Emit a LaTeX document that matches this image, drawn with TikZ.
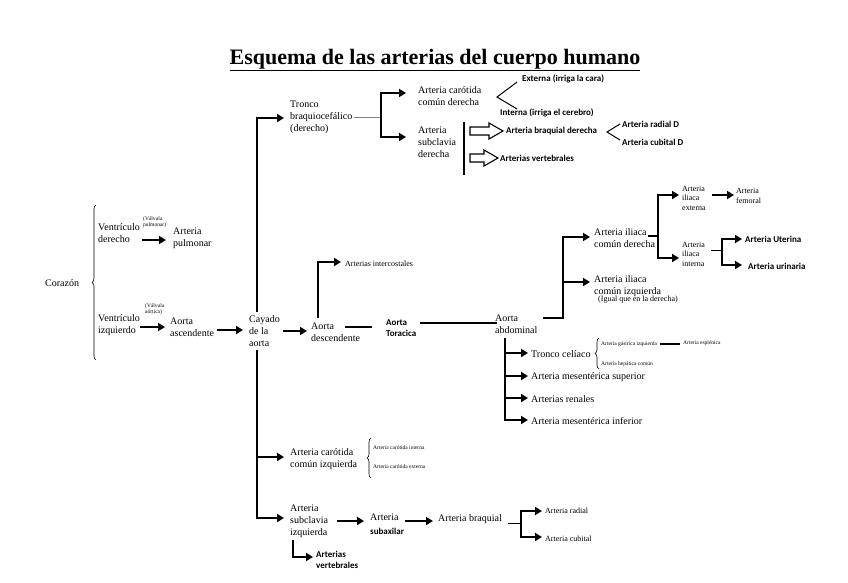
\documentclass[tikz,border=0pt]{standalone}
\usepackage{fontspec}
\setmainfont{Liberation Serif}
\newfontfamily\calfont{Carlito}
\usetikzlibrary{arrows.meta,decorations.pathreplacing}
\begin{document}
\begin{tikzpicture}[x=1pt,y=-1pt,
  t/.style={anchor=west,align=left,inner sep=0pt,font=\fontsize{10}{12}\selectfont},
  ts/.style={anchor=west,align=left,inner sep=0pt,font=\fontsize{8}{9.5}\selectfont},
  tt/.style={anchor=west,align=left,inner sep=0pt,font=\fontsize{5.5}{6.5}\selectfont},
  tb/.style={anchor=west,align=left,inner sep=0pt,font=\calfont\bfseries\fontsize{9}{11}\selectfont},
  ar/.style={line width=1.8pt,-{Triangle[length=7pt,width=8pt]}},
  ln/.style={line width=1.2pt},
  brc/.style={decorate,decoration={brace,amplitude=4pt},line width=0.6pt},
  hol/.style={line width=1.1pt,fill=white}]
\useasboundingbox (0,0) rectangle (848,583);
\node[inner sep=0pt,font=\bfseries\fontsize{22}{25}\selectfont] (title) at (435,60) {\underline{Esquema de las arterias del cuerpo humano}};
% heart
\node[t] (cor) at (45,283) {Corazón};
\draw[brc] (96,360) -- (96,205);
\node[t] (vd) at (98,233) {Ventrículo\\derecho};
\node[tt] (vp) at (143,222) {(Válvula\\pulmonar)};
\draw[ar] (142,240) -- (166,240);
\node[t] (ap) at (173,238) {Arteria\\pulmonar};
\node[t] (vi) at (98,325) {Ventrículo\\izquierdo};
\node[tt] (va) at (145,309) {(Válvula\\aórtica)};
\draw[ar] (140,327) -- (165,327);
\node[t] (aa) at (170,327) {Aorta\\ascendente};
\draw[ar] (217,330) -- (243,330);
\node[t] (cay) at (249,331) {Cayado\\de la\\aorta};
\draw[ar] (283,331) -- (307,331);
\node[t] (ad) at (311,332) {Aorta\\descendente};
\draw[ln] (345,327) -- (372,327);
\node[tb] (at) at (386,328) {Aorta\\Toracica};
\draw[ln] (420,323) -- (497,323);
\node[t] (ab) at (495,324) {Aorta\\abdominal};
% intercostales
\draw[ln] (318,318) -- (318,262);
\draw[ar] (317,262) -- (341,262);
\node[ts] (ic) at (345,264) {Arterias intercostales};
% cayado up
\draw[ln] (257,312) -- (257,117);
\draw[ar] (256,118) -- (284,118);
\node[t] (tb1) at (290,117) {Tronco\\braquiocefálico\\(derecho)};
\draw[line width=0.8pt,gray] (354,117) -- (381,117);
\draw[ln] (381,92) -- (381,137);
\draw[ar] (380,93) -- (406,93);
\draw[ar] (380,137) -- (406,137);
\node[t] (acd) at (418,96) {Arteria carótida\\común derecha};
\draw[line width=1pt] (517,82) -- (497,97) -- (517,109);
\node[tb] (ext) at (522,79) {Externa (irriga la cara)};
\node[tb] (int) at (500,113) {Interna (irriga el cerebro)};
\node[t] (asd) at (418,142) {Arteria\\subclavia\\derecha};
\draw[line width=1.5pt] (464,122) -- (464,175);
\draw[hol] (470,127) -- (489,127) -- (489,123) -- (503,131) -- (489,139) -- (489,135) -- (470,135) -- cycle;
\draw[hol] (470,154) -- (484,154) -- (484,150) -- (498,158) -- (484,166) -- (484,162) -- (470,162) -- cycle;
\node[tb] (abd) at (506,131) {Arteria braquial derecha};
\node[tb] (avd) at (500,158) {Arterias vertebrales};
\draw[line width=1pt] (620,124) -- (607,132) -- (620,140);
\node[tb] (ard) at (622,124) {Arteria radial D};
\node[tb] (acud) at (622,142) {Arteria cubital D};
% abdominal up
\draw[ln] (543,318) -- (563,318) -- (563,236);
\draw[ar] (562,237) -- (590,237);
\draw[ar] (562,282) -- (590,282);
\node[t] (aicd) at (594,238) {Arteria iliaca\\común derecha};
\node[t] (aici) at (594,286) {Arteria iliaca\\común izquierda};
\node[ts] (ig) at (598,300) {(Igual que en la derecha)};
\draw[ln] (648,236) -- (658,236);
\draw[ln] (658,194) -- (658,258);
\draw[ar] (657,195) -- (679,195);
\draw[ar] (657,258) -- (679,258);
\node[ts] (aie) at (682,198) {Arteria\\iliaca\\externa};
\draw[ar] (712,195) -- (734,195);
\node[ts] (af) at (736,196) {Arteria\\femoral};
\node[ts] (aii) at (682,254) {Arteria\\iliaca\\interna};
\draw[line width=1pt] (711,250) -- (722,250);
\draw[ln] (722,238) -- (722,265);
\draw[ar] (721,239) -- (742,239);
\draw[ar] (721,265) -- (742,265);
\node[tb] (au) at (745,239) {Arteria Uterina};
\node[tb] (aur) at (748,266) {Arteria urinaria};
% abdominal down
\draw[ln] (505,338) -- (505,420);
\foreach \y in {353,376,398,420} \draw[ar] (504,\y) -- (528,\y);
\node[t] (tc) at (531,354) {Tronco celíaco};
\node[t] (ams) at (531,377) {Arteria mesentérica superior};
\node[t] (ar) at (531,399) {Arterias renales};
\node[t] (ami) at (531,421) {Arteria mesentérica inferior};
\draw[brc] (599,369) -- (599,338);
\node[tt] (agi) at (601,344) {Arteria gástrica izquierda};
\draw[ln] (660,344) -- (680,344);
\node[tt] (ae) at (683,343) {Arteria esplénica};
\node[tt] (ahc) at (601,364) {Arteria hepática común};
% cayado down
\draw[ln] (257,350) -- (257,519);
\draw[ar] (256,457) -- (284,457);
\node[t] (aci) at (290,459) {Arteria carótida\\común izquierda};
\draw[brc] (371,478) -- (371,438);
\node[tt] (aci1) at (373,448) {Arteria carótida interna};
\node[tt] (aci2) at (373,467) {Arteria carótida externa};
\draw[ar] (256,518) -- (284,518);
\node[t] (asi) at (290,521) {Arteria\\subclavia\\izquierda};
\draw[ar] (337,521) -- (364,521);
\node[t] (asx) at (370,517) {Arteria};
\node[tb] (asx2) at (370,531) {subaxilar};
\draw[ar] (405,521) -- (433,521);
\node[t] (abq) at (438,519) {Arteria braquial};
\draw[line width=1pt] (508,523) -- (521,523);
\draw[ln] (521,510) -- (521,537);
\draw[ar] (520,511) -- (542,511);
\draw[ar] (520,537) -- (542,537);
\node[ts] (arr) at (545,511) {Arteria radial};
\node[ts] (arc) at (545,539) {Arteria cubital};
\draw[ln] (293,540) -- (293,557);
\draw[ar] (292,557) -- (313,557);
\node[tb] (avs) at (316,560) {Arterias\\vertebrales};
\end{tikzpicture}
\end{document}
